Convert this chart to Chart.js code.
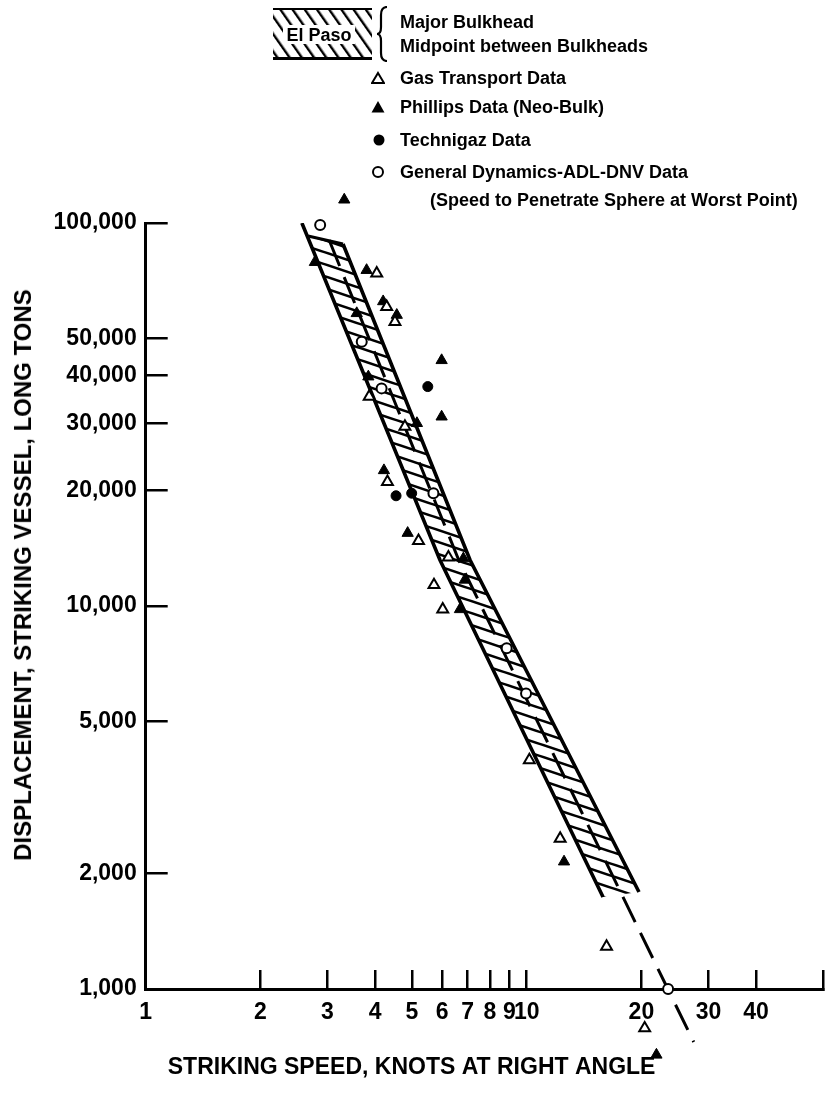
<!DOCTYPE html>
<html><head><meta charset="utf-8">
<script src="https://cdn.jsdelivr.net/npm/chart.js@4.4.1/dist/chart.umd.min.js"></script>
<style>
html,body{margin:0;padding:0;background:#fff;}
#wrap{position:relative;width:833px;height:1094px;overflow:hidden;}
#c{position:absolute;left:0;top:0;}
.lg{position:absolute;font-family:'Liberation Sans',Arial,Helvetica,sans-serif;font-weight:bold;font-size:18px;color:#000;white-space:nowrap;line-height:20px;}
.mk{position:absolute;}
#ytitle{position:absolute;left:22.5px;top:574.5px;transform:translate(-50%,-50%) rotate(-90deg);white-space:nowrap;
  font-family:'Liberation Sans',Arial,Helvetica,sans-serif;font-weight:bold;font-size:24px;line-height:26px;color:#000;}
</style></head><body>
<div id="wrap">
<canvas id="c" width="833" height="1094" style="width:833px;height:1094px"></canvas>

<svg class="mk" style="left:273px;top:8px" width="99" height="52">
  <defs><pattern id="h" patternUnits="userSpaceOnUse" width="10" height="10" patternTransform="rotate(-35)"><rect x="4" y="0" width="2.4" height="10" fill="#000"/></pattern></defs>
  <rect x="0" y="0" width="99" height="52" fill="url(#h)"/>
  <rect x="0" y="0" width="99" height="2" fill="#000"/>
  <rect x="0" y="49" width="99" height="3" fill="#000"/>
  <rect x="10" y="17" width="72" height="19" fill="#fff"/>
  <text x="46" y="33" text-anchor="middle" font-family="Liberation Sans, Arial, sans-serif" font-weight="bold" font-size="18">El Paso</text>
</svg>
<svg class="mk" style="left:376px;top:6px" width="14" height="56">
  <path d="M11,1 Q5,1 5,9 L5,21 Q5,28 1,28 Q5,28 5,35 L5,47 Q5,55 11,55" fill="none" stroke="#000" stroke-width="2.2"/>
</svg>
<div class="lg" style="left:400px;top:12px">Major Bulkhead</div>
<div class="lg" style="left:400px;top:36px">Midpoint between Bulkheads</div>

<svg class="mk" style="left:371px;top:71px" width="14" height="14"><polygon points="7,2 13,12 1,12" fill="#fff" stroke="#000" stroke-width="2"/></svg>
<div class="lg" style="left:400px;top:68px">Gas Transport Data</div>
<svg class="mk" style="left:371px;top:100px" width="14" height="14"><polygon points="7,1 13.5,12.5 0.5,12.5" fill="#000"/></svg>
<div class="lg" style="left:400px;top:97px">Phillips Data (Neo-Bulk)</div>
<svg class="mk" style="left:372px;top:133px" width="14" height="14"><circle cx="7" cy="7" r="5.5" fill="#000"/></svg>
<div class="lg" style="left:400px;top:130px">Technigaz Data</div>
<svg class="mk" style="left:371px;top:165px" width="14" height="14"><circle cx="7" cy="7" r="5" fill="#fff" stroke="#000" stroke-width="2"/></svg>
<div class="lg" style="left:400px;top:162px">General Dynamics-ADL-DNV Data</div>
<div class="lg" style="left:430px;top:190px">(Speed to Penetrate Sphere at Worst Point)</div>

<div id="ytitle">DISPLACEMENT, STRIKING VESSEL, LONG TONS</div>
</div>

<script>
// ---- axis ticks ----
const xTickValues = [1, 2, 3, 4, 5, 6, 7, 8, 9, 10, 20, 30, 40, 60];
const xTickLabels = ['1', '2', '3', '4', '5', '6', '7', '8', '9', '10', '20', '30', '40', ''];
const yTickValues = [1000, 2000, 5000, 10000, 20000, 30000, 40000, 50000, 100000];
const yTickLabels = ['1,000', '2,000', '5,000', '10,000', '20,000', '30,000', '40,000', '50,000', '100,000'];
const xTitle = 'STRIKING SPEED, KNOTS AT RIGHT ANGLE';

// ---- data series (speed in knots, displacement in long tons) ----
const gasTransportSpeed = [4.04, 4.29, 4.51, 3.86, 4.79, 4.31, 5.20, 6.23, 5.71, 6.02, 10.16, 12.24, 16.2, 20.4];
const gasTransportDispl = [73900, 60400, 55200, 35200, 29400, 21100, 14800, 13400, 11350, 9800, 3960, 2470, 1290, 790];
const phillipsSpeed = [3.32, 2.78, 3.80, 4.20, 4.56, 3.58, 5.98, 5.98, 3.84, 5.15, 4.22, 4.87, 6.82, 6.88, 6.68, 12.53, 21.9];
const phillipsDispl = [115000, 79000, 75300, 62400, 57500, 58100, 43800, 31200, 39700, 30000, 22600, 15500, 13300, 11700, 9800, 2150, 673];
const technigazSpeed = [5.50, 4.54, 4.99];
const technigazDispl = [37400, 19400, 19700];
const gdSpeed = [2.87, 3.69, 4.16, 5.69, 8.86, 9.96, 23.5];
const gdDispl = [98800, 49000, 37000, 19700, 7760, 5910, 1000];

// ---- El Paso band ----
const bulkheadLeftSpeed = [2.57, 5.92, 15.86];
const bulkheadLeftDispl = [100000, 13190, 1739];
const bulkheadRightSpeed = [3.295, 7.10, 19.71];
const bulkheadRightDispl = [88130, 13190, 1792];
const bandTopSpeed = [2.667, 3.295];
const bandTopDispl = [92480, 88130];
const midlineSpeed = [3.03, 6.63, 23.53, 27.44];
const midlineDispl = [90280, 13190, 994, 727];

const pts = (xs, ys) => xs.map((x, i) => ({x: x, y: ys[i]}));
const bandPolygon = [
  {x: bandTopSpeed[0], y: bandTopDispl[0]},
  {x: bulkheadLeftSpeed[1], y: bulkheadLeftDispl[1]},
  {x: bulkheadLeftSpeed[2], y: bulkheadLeftDispl[2]},
  {x: bulkheadRightSpeed[2], y: bulkheadRightDispl[2]},
  {x: bulkheadRightSpeed[1], y: bulkheadRightDispl[1]},
  {x: bulkheadRightSpeed[0], y: bulkheadRightDispl[0]},
  {x: bandTopSpeed[0], y: bandTopDispl[0]}
];

const FONT = "'Liberation Sans', Arial, Helvetica, sans-serif";

function bandPattern() {
  const c = document.createElement('canvas');
  c.width = 36; c.height = 12;
  const g = c.getContext('2d');
  g.strokeStyle = '#000'; g.lineWidth = 2.6;
  for (const off of [-12, 0, 12]) {
    g.beginPath(); g.moveTo(-2, off - 2 / 3); g.lineTo(38, off + 12 + 2 / 3); g.stroke();
  }
  return c.getContext('2d').createPattern(c, 'repeat');
}

// let marks just outside the plot frame (as in the original) be drawn
const outsidePoints = {
  id: 'outsidePoints',
  beforeDatasetDraw(chart, args) {
    if (args.meta.controller.getDataset().showLine) return;
    this._saved = chart.chartArea;
    const a = chart.chartArea;
    chart.chartArea = {left: a.left - 100, right: a.right + 100, top: a.top - 100, bottom: a.bottom + 100,
      width: a.width + 200, height: a.height + 200};
  },
  afterDatasetDraw(chart) {
    if (this._saved) { chart.chartArea = this._saved; this._saved = null; }
  }
};

const tickFont = {family: FONT, size: 23, weight: 'bold'};
const noPad = s => { s.paddingLeft = 0; s.paddingRight = 0; s.paddingTop = 0; s.paddingBottom = 0; };

new Chart(document.getElementById('c'), {
  type: 'scatter',
  data: {
    datasets: [
      {label: 'Gas Transport Data', data: pts(gasTransportSpeed, gasTransportDispl), pointStyle: 'triangle', pointRadius: 6.3,
        backgroundColor: '#fff', borderColor: '#000', borderWidth: 2, clip: false},
      {label: 'Phillips Data (Neo-Bulk)', data: pts(phillipsSpeed, phillipsDispl), pointStyle: 'triangle', pointRadius: 6.5,
        backgroundColor: '#000', borderColor: '#000', borderWidth: 1, clip: false},
      {label: 'Technigaz Data', data: pts(technigazSpeed, technigazDispl), pointStyle: 'circle', pointRadius: 5,
        backgroundColor: '#000', borderColor: '#000', borderWidth: 1, clip: false},
      {label: 'General Dynamics-ADL-DNV Data', data: pts(gdSpeed, gdDispl), pointStyle: 'circle', pointRadius: 5,
        backgroundColor: '#fff', borderColor: '#000', borderWidth: 2, clip: false},
      {label: 'Midpoint between Bulkheads', data: pts(midlineSpeed, midlineDispl), showLine: true, pointRadius: 0,
        borderColor: '#000', borderWidth: 3, borderDash: [28, 12], fill: false, clip: false},
      {label: 'Major Bulkhead (left edge)', data: pts(bulkheadLeftSpeed, bulkheadLeftDispl), showLine: true, pointRadius: 0,
        borderColor: '#000', borderWidth: 3.6, fill: false},
      {label: 'Band right edge', data: pts(bulkheadRightSpeed, bulkheadRightDispl), showLine: true, pointRadius: 0,
        borderColor: '#000', borderWidth: 3.6, fill: false},
      {label: 'Band top', data: pts(bandTopSpeed, bandTopDispl), showLine: true, pointRadius: 0,
        borderColor: '#000', borderWidth: 3, fill: false},
      {label: 'El Paso', data: bandPolygon, showLine: true, pointRadius: 0, borderColor: 'rgba(0,0,0,0)', borderWidth: 0,
        fill: 'shape', backgroundColor: bandPattern()}
    ]
  },
  options: {
    responsive: false, animation: false, devicePixelRatio: 1, events: [],
    layout: {padding: {top: 223, right: 9.8, left: 0, bottom: 0}},
    plugins: {
      legend: {display: false}, tooltip: {enabled: false},
      title: {display: true, position: 'bottom', text: xTitle, color: '#000',
        font: {family: FONT, size: 23, weight: 'bold'}, padding: {top: 4, bottom: 13}}
    },
    scales: {
      x: {
        type: 'logarithmic', position: 'bottom', min: 1, max: 60,
        afterBuildTicks: s => { s.ticks = xTickValues.map(v => ({value: v})); },
        afterFit: s => { s.height = 60.4; noPad(s); },
        ticks: {autoSkip: false, maxRotation: 0, minRotation: 0, color: '#000', font: tickFont, padding: 29,
          callback: v => { const i = xTickValues.indexOf(v); return i >= 0 ? xTickLabels[i] : ''; }},
        grid: {display: true, drawOnChartArea: false, drawTicks: true, tickLength: -19, color: '#000', lineWidth: 2.5},
        border: {display: true, color: '#000', width: 3}
      },
      y: {
        type: 'logarithmic', position: 'left', min: 1000, max: 100000,
        afterBuildTicks: s => { s.ticks = yTickValues.map(v => ({value: v})); },
        afterFit: s => { s.width = 145.7; noPad(s); },
        ticks: {autoSkip: false, color: '#000', font: tickFont, padding: 31,
          callback: v => { const i = yTickValues.indexOf(v); return i >= 0 ? yTickLabels[i] : ''; }},
        grid: {display: true, drawOnChartArea: false, drawTicks: true, tickLength: -22, color: '#000', lineWidth: 2.5},
        border: {display: true, color: '#000', width: 3}
      }
    }
  },
  plugins: [outsidePoints]
});
</script>
</body></html>
